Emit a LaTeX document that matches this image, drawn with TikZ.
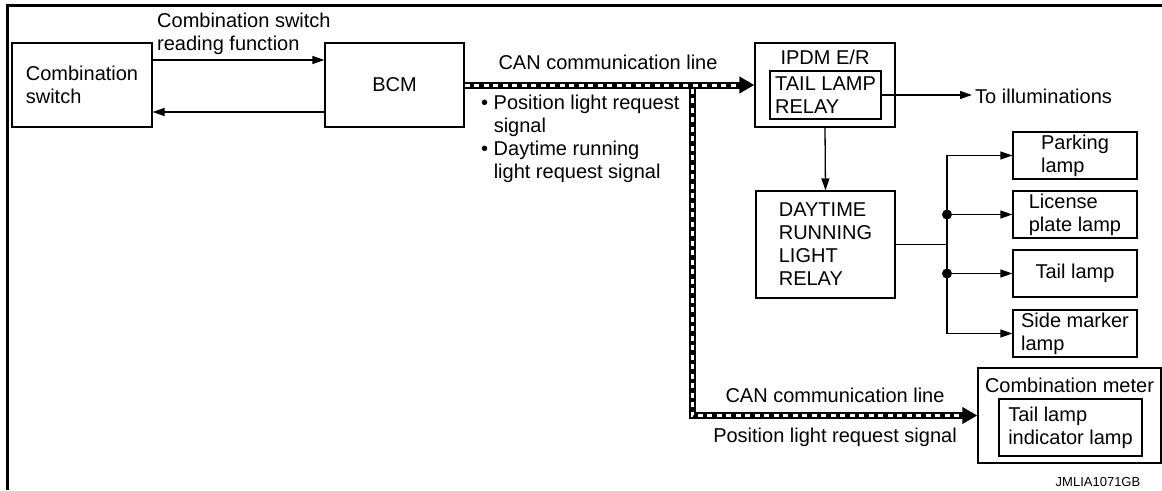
\documentclass[tikz,border=0pt]{standalone}
\usepackage{fontspec}
\setmainfont{Liberation Sans}
\usetikzlibrary{arrows.meta}

\begin{document}
\begin{tikzpicture}[x=1pt, y=-1pt,
    every node/.style={font=\fontsize{20}{23}\selectfont},
    blk/.style 2 args={draw, line width=1.3pt, minimum width=#1, minimum height=#2, inner sep=0pt, align=left},
    lbl/.style={inner sep=0pt, align=left},
    wire/.style={line width=1.3pt},
    arr/.style={wire, -{Triangle[length=12pt, width=8pt]}},
    canline/.style={line width=7pt, -{Triangle[length=15pt, width=16pt]}},
    candash/.style={white, line width=3pt, dash pattern=on 5pt off 4.5pt, shorten >=17pt}
]
\useasboundingbox (0,0) rectangle (1162,490);
\draw[line width=3pt] (1162,5.5) -- (7.5,5.5) -- (7.5,490);

\node[blk={140pt}{84pt}] (cmbsw) at (82,85) {Combination\\switch};
\node[blk={139pt}{84pt}] (bcm) at (394.5,85) {BCM};
\node[blk={140pt}{84pt}] (ipdm) at (825,85) {};
\node[lbl] (ipdmt) at (825,57) {IPDM E/R};
\node[blk={111pt}{48pt}] (tlrelay) at (825.5,95) {TAIL LAMP\\RELAY};
\node[blk={139pt}{107pt}] (drl) at (825.5,244.5) {DAYTIME\\RUNNING\\LIGHT\\RELAY};
\node[blk={124pt}{47pt}] (park) at (1075,155.5) {Parking\\lamp};
\node[blk={124pt}{47pt}] (lic) at (1075,214.5) {License\\plate lamp};
\node[blk={124pt}{47pt}] (tail) at (1075,273.5) {Tail lamp};
\node[blk={124pt}{47pt}] (side) at (1075,333.5) {Side marker\\lamp};
\node[blk={183pt}{95pt}] (cmeter) at (1069.5,415.5) {};
\node[lbl] (cmetert) at (1069.5,385) {Combination meter};
\node[blk={143pt}{57pt}] (tlind) at (1070.5,427.5) {Tail lamp\\indicator lamp};

\node[lbl, anchor=west] (rdfn) at (157,34) {Combination switch\\reading function};
\node[lbl] (can1) at (608,62) {CAN communication line};
\node[lbl, anchor=west] (sig1) at (481,139) {\textbullet\ Position light request\\\phantom{\textbullet\ }signal\\\textbullet\ Daytime running\\\phantom{\textbullet\ }light request signal};
\node[lbl] (can2) at (835,395) {CAN communication line};
\node[lbl] (sig2) at (835,437) {Position light request signal};
\node[lbl, anchor=west] (illum) at (975,96) {To illuminations};
\node[lbl, font=\fontsize{13}{15}\selectfont] (figid) at (1098,482) {JMLIA1071GB};

\draw[arr] ([yshift=25pt]cmbsw.east) -- ([yshift=25pt]bcm.west);
\draw[arr] ([yshift=-27pt]bcm.west) -- ([yshift=-27pt]cmbsw.east);

\coordinate (canj) at (692,85);
\draw[canline] ([yshift=-3.5pt]canj) |- (cmeter.west);
\draw[candash] ([yshift=-3.5pt]canj) |- (cmeter.west);
\draw[canline] (bcm.east) -- (ipdm.west);
\draw[candash] (bcm.east) -- (ipdm.west);

\draw[arr, shorten >=3pt] (tlrelay.east) -- (tlrelay.east -| illum.west);
\draw[arr] (ipdm.south) -- (drl.north);

\coordinate (bus) at (947,0);
\draw[wire] (drl.east) -- (drl.east -| bus);
\draw[arr] (drl.east -| bus) |- (park.west);
\draw[arr] (drl.east -| bus) |- (side.west);
\draw[arr] (lic.west -| bus) -- (lic.west);
\draw[arr] (tail.west -| bus) -- (tail.west);
\fill (lic.west -| bus) circle (5);
\fill (tail.west -| bus) circle (5);
\end{tikzpicture}
\end{document}
